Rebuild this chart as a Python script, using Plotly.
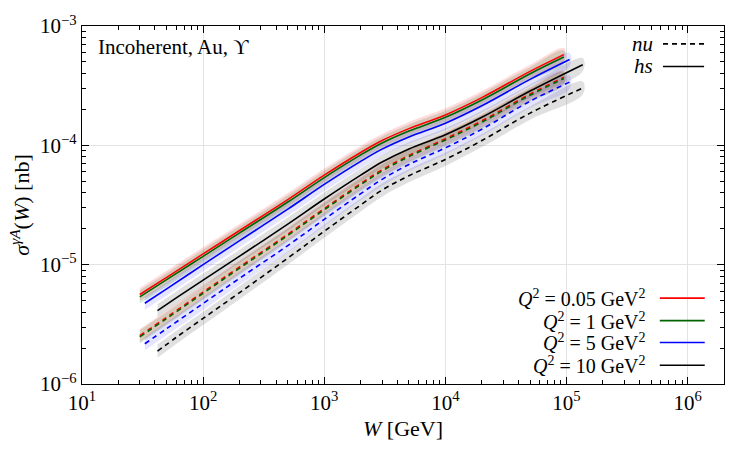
import numpy as np
import plotly.graph_objects as go

# ---- data (W in GeV, sigma in nb) ----
W_q005 = [30, 50, 100, 200, 500, 1000, 2000, 3000, 5000, 10000, 20000, 50000, 95000]
W_q1 = W_q005
W_q5 = [33, 50, 100, 200, 500, 1000, 2000, 3000, 5000, 10000, 20000, 50000, 106000]
W_q10 = [42, 60, 100, 200, 500, 1000, 2000, 3000, 5000, 10000, 20000, 50000, 136000]

# log10(sigma) values
hs_q005 = [-5.25, -5.106, -4.91, -4.714, -4.455, -4.25, -4.06, -3.96, -3.86, -3.745, -3.60, -3.38, -3.24]
hs_q1 = [-5.27, -5.126, -4.93, -4.734, -4.475, -4.27, -4.08, -3.98, -3.88, -3.765, -3.62, -3.40, -3.26]
hs_q5 = [-5.323, -5.203, -5.0, -4.799, -4.535, -4.327, -4.134, -4.032, -3.93, -3.814, -3.668, -3.447, -3.281]
hs_q10 = [-5.385, -5.279, -5.13, -4.929, -4.66, -4.45, -4.25, -4.14, -4.03, -3.911, -3.765, -3.545, -3.324]

nu_q005 = [-5.595, -5.441, -5.23, -5.019, -4.745, -4.53, -4.32, -4.205, -4.085, -3.945, -3.795, -3.57, -3.43]
nu_q1 = [-5.605, -5.451, -5.24, -5.029, -4.755, -4.54, -4.33, -4.215, -4.095, -3.955, -3.805, -3.58, -3.44]
nu_q5 = [-5.663, -5.536, -5.325, -5.114, -4.84, -4.62, -4.405, -4.285, -4.16, -4.021, -3.865, -3.63, -3.47]
nu_q10 = [-5.725, -5.609, -5.45, -5.234, -4.945, -4.72, -4.50, -4.375, -4.255, -4.118, -3.96, -3.73, -3.52]

band_half = 0.055  # half-width of uncertainty band, decades

x_tickvals = [1e1, 1e2, 1e3, 1e4, 1e5, 1e6]
x_ticktext = ["10<sup>1</sup>", "10<sup>2</sup>", "10<sup>3</sup>", "10<sup>4</sup>", "10<sup>5</sup>", "10<sup>6</sup>"]
y_tickvals = [1e-6, 1e-5, 1e-4, 1e-3]
y_ticktext = ["10<sup>−6</sup>", "10<sup>−5</sup>", "10<sup>−4</sup>", "10<sup>−3</sup>"]

S = "&nbsp;"
q2_labels = [f"<i>Q</i><sup>2</sup>{S}={S}0.05{S}GeV<sup>2</sup>",
             f"<i>Q</i><sup>2</sup>{S}={S}1{S}GeV<sup>2</sup>",
             f"<i>Q</i><sup>2</sup>{S}={S}5{S}GeV<sup>2</sup>",
             f"<i>Q</i><sup>2</sup>{S}={S}10{S}GeV<sup>2</sup>"]
line_colors = ["#ff0000", "#006400", "#0000ff", "#000000"]
band_colors = ["rgba(255,0,0,0.14)", "rgba(0,100,0,0.15)", "rgba(0,0,255,0.10)", "rgba(0,0,0,0.12)"]

series = [
    (W_q005, hs_q005, nu_q005),
    (W_q1, hs_q1, nu_q1),
    (W_q5, hs_q5, nu_q5),
    (W_q10, hs_q10, nu_q10),
]

FONT = "Liberation Serif"
fig = go.Figure()

# bands
for (W, hs, nu), bc in zip(series, band_colors):
    for arr in (nu, hs):
        a = np.array(arr)
        up = 10 ** (a + band_half)
        lo = 10 ** (a - band_half)
        fig.add_trace(go.Scatter(
            x=list(W) + list(W)[::-1], y=list(up) + list(lo[::-1]),
            fill="toself", fillcolor=bc, line=dict(width=0, shape="spline"), mode="lines",
            hoverinfo="skip", showlegend=False))

# lines
for (W, hs, nu), lc in zip(series, line_colors):
    fig.add_trace(go.Scatter(x=W, y=10 ** np.array(nu), mode="lines",
                             line=dict(color=lc, width=1.6, dash="5px,4px", shape="spline"),
                             showlegend=False))
    fig.add_trace(go.Scatter(x=W, y=10 ** np.array(hs), mode="lines",
                             line=dict(color=lc, width=1.6, shape="spline"),
                             showlegend=False))

axis_common = dict(
    type="log", showline=True, linecolor="black", linewidth=1.2, mirror="allticks",
    ticks="inside", ticklen=7, tickcolor="black",
    showgrid=True, gridcolor="#e3e3e3", gridwidth=1, zeroline=False,
    tickfont=dict(family=FONT, size=21, color="black"),
    minor=dict(ticks="inside", ticklen=4, tickcolor="black", dtick="D1", showgrid=False),
)

fig.update_layout(
    width=750, height=450,
    margin=dict(l=82, r=26, t=22, b=66),
    plot_bgcolor="white", paper_bgcolor="white",
    font=dict(family=FONT, size=20, color="black"),
    xaxis=dict(axis_common, range=[1, 6.3], tickmode="array", tickvals=x_tickvals, ticktext=x_ticktext,
               title=dict(text="<i>W</i> [GeV]", font=dict(family=FONT, size=22), standoff=6)),
    yaxis=dict(axis_common, range=[-6, -3], tickmode="array", tickvals=y_tickvals, ticktext=y_ticktext,
               title=dict(text="<i>σ</i><sup><i>γA</i></sup>(<i>W</i>) [nb]", font=dict(family=FONT, size=22), standoff=4)),
    showlegend=False,
)

# top-left label
fig.add_annotation(x=0.022, y=0.94, xref="paper", yref="paper", xanchor="left", yanchor="middle",
                   text="Incoherent, Au, ϒ", showarrow=False, font=dict(family=FONT, size=21))

# model legend (top right)
model_names = ["<i>nu</i>", "<i>hs</i>"]
model_dash = ["5px,4px", "solid"]
model_y = [0.950, 0.887]
for name, dsh, yy in zip(model_names, model_dash, model_y):
    fig.add_annotation(x=0.893, y=yy, xref="paper", yref="paper", xanchor="right", yanchor="middle",
                       text=name, showarrow=False, font=dict(family=FONT, size=21))
    fig.add_shape(type="line", xref="paper", yref="paper", x0=0.905, x1=0.969, y0=yy, y1=yy,
                  line=dict(color="black", width=1.6, dash=dsh))

# Q2 legend (bottom right)
q_y = [0.240, 0.177, 0.116, 0.0525]
for lab, lc, yy in zip(q2_labels, line_colors, q_y):
    fig.add_annotation(x=0.882, y=yy, xref="paper", yref="paper", xanchor="right", yanchor="middle",
                       text=lab, showarrow=False, font=dict(family=FONT, size=20))
    fig.add_shape(type="line", xref="paper", yref="paper", x0=0.900, x1=0.970, y0=yy, y1=yy,
                  line=dict(color=lc, width=1.6))

fig.write_html("out.html")
